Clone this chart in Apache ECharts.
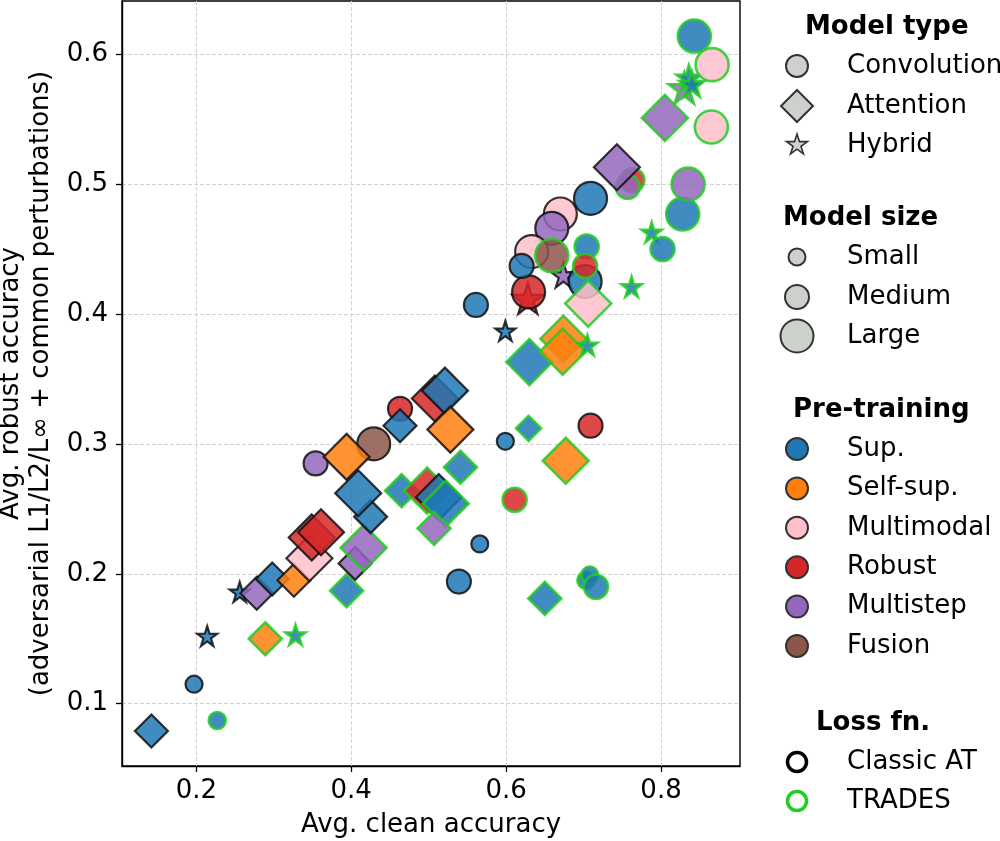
<!DOCTYPE html>
<html>
<head>
<meta charset="utf-8">
<script src="https://cdn.jsdelivr.net/npm/echarts@6/dist/echarts.min.js"></script>
<style>
  html, body { margin: 0; padding: 0; background: #fff; }
  #main { width: 1000px; height: 841px; }
</style>
</head>
<body>
<div id="main"></div>
<script>
// one entry per model, same order in every array (draw order)
const cleanAcc = [
  0.142, 0.197, 0.227, 0.214, 0.289, 0.328, 0.256, 0.278, 0.298, 0.326,
  0.346, 0.349, 0.361, 0.354, 0.394, 0.405, 0.416, 0.425, 0.409, 0.429,
  0.394, 0.463, 0.463, 0.465, 0.498, 0.513, 0.522, 0.507, 0.508, 0.521,
  0.528, 0.541, 0.561, 0.566, 0.539, 0.611, 0.650, 0.703, 0.708, 0.716,
  0.599, 0.629, 0.709, 0.677, 0.599, 0.630, 0.674, 0.673, 0.705, 0.628,
  0.629, 0.670, 0.659, 0.633, 0.620, 0.674, 0.702, 0.706, 0.659, 0.704,
  0.702, 0.762, 0.788, 0.802, 0.709, 0.763, 0.757, 0.743, 0.828, 0.835,
  0.805, 0.865, 0.830, 0.836, 0.840, 0.843, 0.866
];
const robustAcc = [
  0.079, 0.115, 0.087, 0.152, 0.150, 0.153, 0.186, 0.185, 0.196, 0.195,
  0.212, 0.228, 0.232, 0.285, 0.187, 0.208, 0.220, 0.244, 0.262, 0.300,
  0.290, 0.327, 0.314, 0.264, 0.264, 0.259, 0.254, 0.235, 0.335, 0.341,
  0.311, 0.282, 0.407, 0.223, 0.194, 0.257, 0.181, 0.195, 0.199, 0.190,
  0.302, 0.312, 0.314, 0.287, 0.387, 0.363, 0.381, 0.371, 0.376, 0.412,
  0.417, 0.477, 0.466, 0.448, 0.437, 0.430, 0.425, 0.408, 0.445, 0.452,
  0.437, 0.421, 0.463, 0.450, 0.489, 0.503, 0.498, 0.513, 0.477, 0.500,
  0.551, 0.544, 0.574, 0.582, 0.577, 0.614, 0.592
];
// C = Convolution, A = Attention, H = Hybrid
const modelType = [
  'A','C','C','H','A','H','H','A','A','A',
  'A','A','A','C','A','A','A','A','A','C',
  'A','C','A','A','A','A','A','A','A','A',
  'A','A','C','C','C','C','A','C','C','C',
  'C','A','C','A','H','A','A','A','H','H',
  'C','C','C','C','C','H','C','A','C','C',
  'C','H','H','C','C','C','C','A','C','C',
  'A','C','H','H','H','C','C'
];
const modelSize = [
  'M','S','S','S','M','S','S','M','M','M',
  'L','L','L','M','M','M','L','M','L','L',
  'L','M','M','M','L','L','L','M','L','L',
  'L','M','M','S','M','M','M','S','S','M',
  'S','S','M','L','S','L','L','L','S','L',
  'L','L','L','L','M','M','L','L','L','M',
  'M','S','S','M','L','M','M','L','L','L',
  'L','L','L','M','M','L','L'
];
const preTraining = [
  'Sup','Sup','Sup','Sup','Self','Sup','Sup','MS','Sup','Self',
  'MM','Rob','Rob','MS','Sup','MS','MS','Sup','Sup','Fus',
  'Self','Rob','Sup','Sup','Rob','Sup','Sup','MS','Rob','Sup',
  'Self','Sup','Sup','Sup','Sup','Rob','Sup','Sup','Sup','Sup',
  'Sup','Sup','Rob','Self','Sup','Sup','Self','Self','Sup','Rob',
  'Rob','MM','MS','MM','Sup','MS','Sup','MM','Fus','Sup',
  'Rob','Sup','Sup','Sup','Sup','Rob','MS','MS','Sup','MS',
  'MS','MM','MS','Sup','Sup','Sup','MM'
];
const lossFn = [
  'AT','AT','TR','AT','TR','TR','AT','AT','AT','AT',
  'AT','AT','AT','AT','TR','AT','TR','AT','AT','AT',
  'AT','AT','AT','TR','TR','AT','TR','TR','AT','AT',
  'AT','TR','AT','AT','AT','TR','TR','TR','TR','TR',
  'AT','TR','AT','TR','AT','TR','TR','TR','TR','AT',
  'AT','AT','AT','AT','AT','AT','AT','TR','TR','TR',
  'TR','TR','TR','TR','AT','TR','TR','AT','TR','TR',
  'TR','TR','TR','TR','TR','TR','TR'
];
const xTicks = [0.2, 0.4, 0.6, 0.8];
const yTicks = [0.1, 0.2, 0.3, 0.4, 0.5, 0.6];

const preColors = {
  Sup: '#1f77b4', Self: '#ff7f0e', MM: '#ffc0cb',
  Rob: '#d62728', MS: '#9467bd', Fus: '#8c564b'
};
const preLabels = [['Sup', 'Sup.'], ['Self', 'Self-sup.'], ['MM', 'Multimodal'],
                   ['Rob', 'Robust'], ['MS', 'Multistep'], ['Fus', 'Fusion']];
const edgeColors = { AT: '#111111', TR: '#22cc22' };
const GREEN = '#22cc22';

const starPath = 'path://M50 0 L61.23 34.55 L97.55 34.55 L68.16 55.9 L79.39 90.45 L50 69.1 L20.61 90.45 L31.84 55.9 L2.45 34.55 L38.77 34.55 Z';
const symbols = { C: 'circle', A: 'diamond', H: starPath };
const sizes = {
  C: { S: 17, M: 24, L: 33 },
  A: { S: 25, M: 33, L: 46 },
  H: { S: 20, M: 25, L: 31 }
};

const points = cleanAcc.map(function (x, i) {
  const t = modelType[i];
  return {
    value: [x, robustAcc[i]],
    symbol: symbols[t],
    symbolSize: sizes[t][modelSize[i]],
    itemStyle: {
      color: preColors[preTraining[i]],
      borderColor: edgeColors[lossFn[i]],
      borderWidth: lossFn[i] === 'TR' ? 2.6 : 2.2,
      opacity: 0.85
    }
  };
});

// legend drawn by hand (matplotlib style, four stacked boxes)
const FONT = '"DejaVu Sans", sans-serif';
const legendGray = '#ccd1cc';
const legendEdge = '#333333';
const mx = 797, tx = 847;

function txt(text, x, y, bold) {
  return {
    type: 'text', z: 10,
    style: {
      text: text, x: x, y: y, fill: '#000',
      font: (bold ? 'bold ' : '') + '26px ' + FONT,
      verticalAlign: 'middle', align: 'left'
    }
  };
}
function circ(cx, cy, r, fill, stroke, lw) {
  return {
    type: 'circle', z: 10,
    shape: { cx: cx, cy: cy, r: r },
    style: { fill: fill, stroke: stroke, lineWidth: lw }
  };
}
function starPts(cx, cy, R) {
  const pts = [];
  for (let k = 0; k < 10; k++) {
    const a = (-90 + k * 36) * Math.PI / 180;
    const r = k % 2 === 0 ? R : R * 0.382;
    pts.push([cx + r * Math.cos(a), cy + r * Math.sin(a)]);
  }
  return pts;
}

const legend = [];
legend.push(txt('Model type', 805, 27, true));
legend.push(circ(mx, 66, 11, legendGray, legendEdge, 2));
legend.push(txt('Convolution', tx, 66));
legend.push({
  type: 'polygon', z: 10,
  shape: { points: [[mx, 90], [mx + 16, 106], [mx, 122], [mx - 16, 106]] },
  style: { fill: legendGray, stroke: legendEdge, lineWidth: 2 }
});
legend.push(txt('Attention', tx, 106));
legend.push({
  type: 'polygon', z: 10,
  shape: { points: starPts(mx, 145, 11) },
  style: { fill: legendGray, stroke: legendEdge, lineWidth: 1.6 }
});
legend.push(txt('Hybrid', tx, 145));

legend.push(txt('Model size', 783, 218, true));
legend.push(circ(mx, 257, 8.5, legendGray, legendEdge, 2));
legend.push(txt('Small', tx, 257));
legend.push(circ(mx, 297, 12, legendGray, legendEdge, 2));
legend.push(txt('Medium', tx, 297));
legend.push(circ(mx, 336, 16.5, legendGray, legendEdge, 2));
legend.push(txt('Large', tx, 336));

legend.push(txt('Pre-training', 793, 410, true));
preLabels.forEach(function (p, k) {
  const y = 449 + k * 39.4;
  legend.push(circ(mx, y, 11, preColors[p[0]], legendEdge, 2));
  legend.push(txt(p[1], tx, y));
});

legend.push(txt('Loss fn.', 816, 723, true));
legend.push(circ(mx, 762, 9.5, 'none', '#000', 3.5));
legend.push(txt('Classic AT', tx, 762));
legend.push(circ(mx, 801, 9.5, 'none', GREEN, 3.5));
legend.push(txt('TRADES', tx, 801));

const myChart = echarts.init(document.getElementById('main'), null, { renderer: 'canvas' });
myChart.setOption({
  backgroundColor: '#fff',
  animation: false,
  textStyle: { fontFamily: FONT },
  grid: {
    left: 122, right: 260, top: 1, bottom: 75,
    outerBoundsMode: 'none', containLabel: false,
    show: true, borderColor: '#000', borderWidth: 1.4, backgroundColor: 'transparent'
  },
  xAxis: {
    type: 'value', min: 0.104, max: 0.902,
    name: 'Avg. clean accuracy', nameLocation: 'middle', nameGap: 46,
    nameTextStyle: { fontSize: 26, color: '#000', fontFamily: FONT },
    axisLine: { show: true, onZero: false, lineStyle: { color: '#000', width: 1.4 } },
    axisTick: { show: true, inside: false, length: 6, customValues: xTicks, lineStyle: { color: '#000', width: 1.3 } },
    axisLabel: { customValues: xTicks, fontSize: 26, color: '#000', margin: 12, fontFamily: FONT,
      formatter: function (v) { return v.toFixed(1); } },
    splitLine: { show: true, lineStyle: { color: '#d3d3d3', type: [4, 2], width: 1 } }
  },
  yAxis: {
    type: 'value', min: 0.052, max: 0.641,
    name: 'Avg. robust accuracy\n(adversarial L1/L2/L\u221e + common perturbations)',
    nameLocation: 'middle', nameGap: 66, nameRotate: 90,
    nameTextStyle: { fontSize: 26, color: '#000', fontFamily: FONT, lineHeight: 30, align: 'center' },
    axisLine: { show: true, onZero: false, lineStyle: { color: '#000', width: 1.4 } },
    axisTick: { show: true, inside: false, length: 6, customValues: yTicks, lineStyle: { color: '#000', width: 1.3 } },
    axisLabel: { customValues: yTicks, fontSize: 26, color: '#000', margin: 14, fontFamily: FONT,
      formatter: function (v) { return v.toFixed(1); } },
    splitLine: { show: true, lineStyle: { color: '#d3d3d3', type: [4, 2], width: 1 } }
  },
  series: [{
    type: 'scatter',
    data: points,
    z: 3
  }],
  graphic: legend
});
</script>
</body>
</html>
